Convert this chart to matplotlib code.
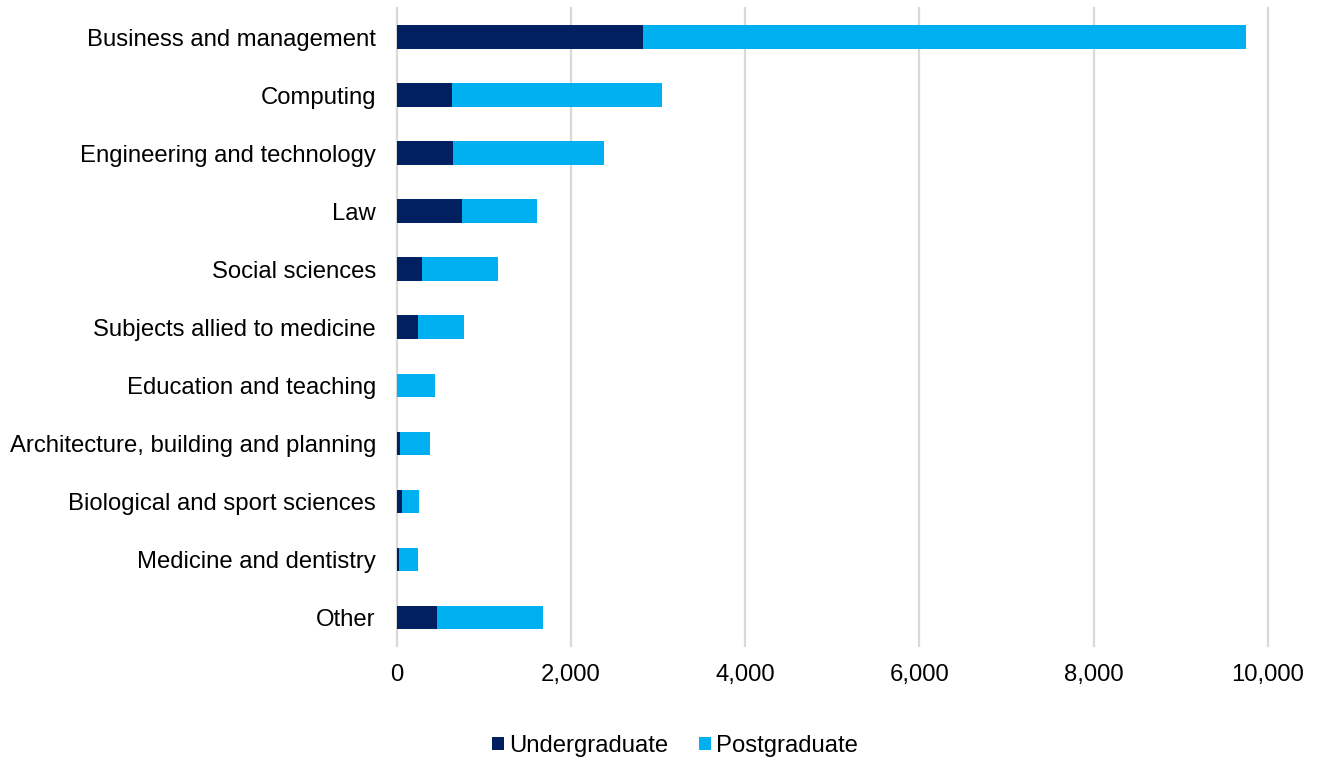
import matplotlib
matplotlib.use("Agg")
import matplotlib.pyplot as plt
from matplotlib.ticker import FuncFormatter

plt.rcParams['font.family'] = ['Liberation Sans', 'DejaVu Sans']

subjects = ["Business and management", "Computing", "Engineering and technology",
            "Law", "Social sciences", "Subjects allied to medicine",
            "Education and teaching", "Architecture, building and planning",
            "Biological and sport sciences", "Medicine and dentistry", "Other"]
undergraduate = [2830, 630, 650, 755, 295, 240, 0, 42, 66, 31, 467]
postgraduate = [6915, 2420, 1730, 860, 868, 536, 436, 345, 194, 218, 1207]

ug_col = "#002060"
pg_col = "#00b0f0"

fig = plt.figure(figsize=(13.18, 7.62), dpi=100)
ax = fig.add_axes([0.301, 0.152, 0.661, 0.8375])

y = list(range(len(subjects)))
ax.barh(y, undergraduate, height=0.4, color=ug_col, label="Undergraduate", zorder=3)
ax.barh(y, postgraduate, left=undergraduate, height=0.4, color=pg_col,
        label="Postgraduate", zorder=3)

ax.set_ylim(len(subjects) - 0.5, -0.5)
ax.set_xlim(0, 10000)
ax.set_xticks(range(0, 10001, 2000))
ax.xaxis.set_major_formatter(FuncFormatter(lambda v, p: f"{int(v):,}"))
ax.set_yticks(y)
ax.set_yticklabels(subjects)

for s in ax.spines.values():
    s.set_visible(False)
ax.grid(axis="x", color="#d9d9d9", linewidth=1.6, zorder=0)
for gl in ax.get_xgridlines():
    gl.set_clip_on(False)
ax.tick_params(axis="both", length=0, labelsize=17.2, colors="#000000")
ax.tick_params(axis="y", pad=15)
ax.tick_params(axis="x", pad=13)

fig.legend(loc="center", bbox_to_anchor=(0.512, 0.021), ncol=2, frameon=False,
           fontsize=17.2, handlelength=0.5, handleheight=0.5, handletextpad=0.2,
           columnspacing=1.3)

fig.savefig("out.png", dpi=100)
